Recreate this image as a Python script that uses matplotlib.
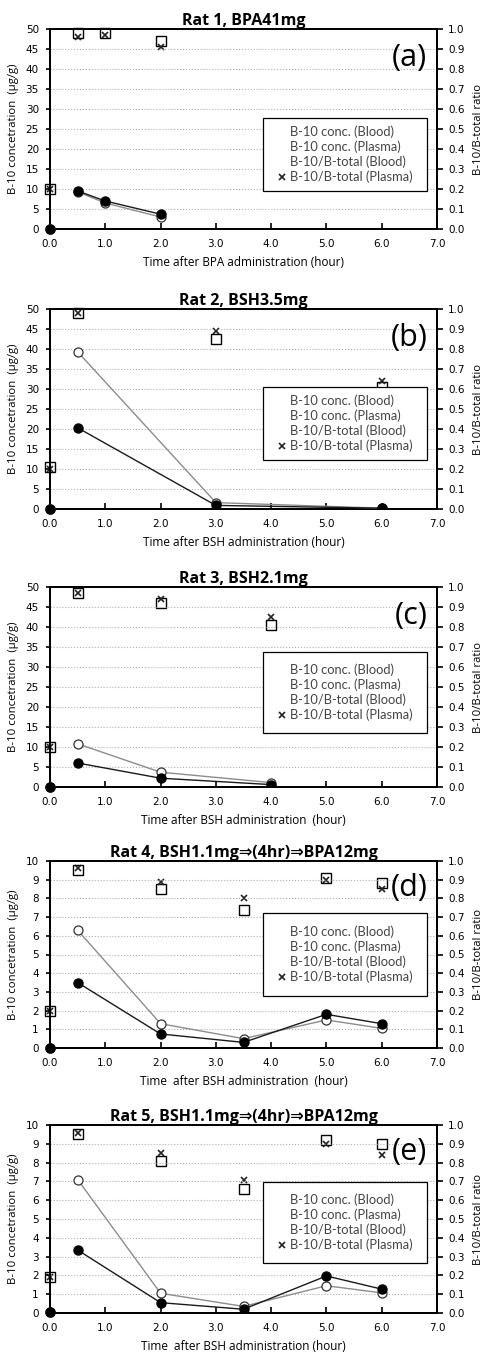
import matplotlib
matplotlib.use("Agg")
import matplotlib.pyplot as plt
from matplotlib.lines import Line2D
from matplotlib.patches import Rectangle
import numpy as np

plt.rcParams['font.family'] = ['Open Sans', 'DejaVu Sans']

# ---------------- data ----------------
titles = ["Rat 1, BPA41mg", "Rat 2, BSH3.5mg", "Rat 3, BSH2.1mg",
          "Rat 4, BSH1.1mg\u21d2(4hr)\u21d2BPA12mg",
          "Rat 5, BSH1.1mg\u21d2(4hr)\u21d2BPA12mg"]
panel_labels = ["(a)", "(b)", "(c)", "(d)", "(e)"]
xlabels = ["Time after BPA administration (hour)",
           "Time after BSH administration (hour)",
           "Time after BSH administration  (hour)",
           "Time  after BSH administration  (hour)",
           "Time  after BSH administration (hour)"]

t1 = [0, 0.5, 1.0, 2.0]
blood1 = [0, 9.5, 7.0, 3.7]
plasma1 = [0, 9.3, 6.5, 3.0]
ratio_blood1 = [0.20, 0.98, 0.98, 0.94]
ratio_plasma1 = [0.20, 0.96, 0.97, 0.91]

t2 = [0, 0.5, 3.0, 6.0]
blood2 = [0, 20.3, 0.9, 0.2]
plasma2 = [0, 39.3, 1.6, 0.2]
ratio_blood2 = [0.21, 0.98, 0.85, 0.61]
ratio_plasma2 = [0.20, 0.98, 0.89, 0.64]

t3 = [0, 0.5, 2.0, 4.0]
blood3 = [0, 6.0, 2.2, 0.6]
plasma3 = [0, 10.8, 3.7, 1.1]
ratio_blood3 = [0.20, 0.97, 0.92, 0.81]
ratio_plasma3 = [0.20, 0.97, 0.94, 0.85]

t4 = [0, 0.5, 2.0, 3.5, 5.0, 6.0]
blood4 = [0, 3.5, 0.75, 0.3, 1.8, 1.3]
plasma4 = [0, 6.3, 1.3, 0.5, 1.5, 1.05]
ratio_blood4 = [0.20, 0.95, 0.85, 0.74, 0.91, 0.88]
ratio_plasma4 = [0.20, 0.96, 0.89, 0.80, 0.90, 0.85]

t5 = [0, 0.5, 2.0, 3.5, 5.0, 6.0]
blood5 = [0.05, 3.35, 0.55, 0.2, 1.97, 1.27]
plasma5 = [0.05, 7.1, 1.05, 0.35, 1.45, 1.07]
ratio_blood5 = [0.19, 0.95, 0.81, 0.66, 0.92, 0.90]
ratio_plasma5 = [0.19, 0.96, 0.85, 0.71, 0.90, 0.84]

times = [t1, t2, t3, t4, t5]
bloods = [blood1, blood2, blood3, blood4, blood5]
plasmas = [plasma1, plasma2, plasma3, plasma4, plasma5]
rbloods = [ratio_blood1, ratio_blood2, ratio_blood3, ratio_blood4, ratio_blood5]
rplasmas = [ratio_plasma1, ratio_plasma2, ratio_plasma3, ratio_plasma4, ratio_plasma5]
ymaxes = [50, 50, 50, 10, 10]
ysteps = [5, 5, 5, 1, 1]
legend_names = ["B-10 conc. (Blood)", "B-10 conc. (Plasma)",
                "B-10/B-total (Blood)", "B-10/B-total (Plasma)"]

# ---------------- layout (pixels) ----------------
W, H = 482, 1354
fig = plt.figure(figsize=(W / 100, H / 100), dpi=100)
boxes = [(29, 229), (309, 509), (587, 787), (861, 1048), (1125, 1313)]
# legend frame in axes fraction: (x0, x1, y0, y1)
legend_boxes = [(0.55, 0.975, 0.19, 0.555),
                (0.55, 0.975, 0.245, 0.61),
                (0.55, 0.975, 0.27, 0.675),
                (0.55, 0.975, 0.28, 0.72),
                (0.55, 0.975, 0.266, 0.697)]
left_px, right_px = 50, 437
tick_font = {'family': 'DejaVu Sans', 'size': 7.5}

for i in range(5):
    top, bot = boxes[i]
    ax = fig.add_axes([left_px / W, 1 - bot / H, (right_px - left_px) / W, (bot - top) / H])
    ax2 = ax.twinx()
    ax.set_zorder(ax2.get_zorder() + 1)
    ax.patch.set_visible(False)

    t = times[i]
    # ratio markers (right axis)
    ax2.plot(t, rbloods[i], linestyle='none', marker='s', markersize=7.5,
             markerfacecolor='white', markeredgecolor='black', markeredgewidth=1.0,
             clip_on=False, zorder=3)
    ax2.plot(t, rplasmas[i], linestyle='none', marker='x', markersize=4.5,
             color='#222222', markeredgewidth=1.2, clip_on=False, zorder=4)
    ax2.set_ylim(0, 1.0)
    ax2.set_yticks(np.arange(0, 1.01, 0.1))
    ax2.yaxis.set_major_formatter(matplotlib.ticker.FormatStrFormatter('%.1f'))
    ax2.tick_params(axis='y', direction='out', length=4, width=1.2,
                    colors='black', pad=4)
    for lb in ax2.get_yticklabels():
        lb.set_fontproperties(tick_font)
    ax2.set_ylabel("B-10/B-total ratio", fontsize=8.2, labelpad=6)

    # concentration lines (left axis)
    ax.plot(t[1:], plasmas[i][1:], color='#8c8c8c', linewidth=1.0, zorder=5,
            marker='o', markersize=6.5, markerfacecolor='white',
            markeredgecolor='#333333', markeredgewidth=0.9)
    ax.plot(t[1:], bloods[i][1:], color='#1a1a1a', linewidth=1.0, zorder=6,
            marker='o', markersize=6.5, markerfacecolor='black', markeredgecolor='black')
    ax.plot(t[:1], plasmas[i][:1], linestyle='none', marker='o', markersize=6.5,
            markerfacecolor='white', markeredgecolor='#333333', clip_on=False, zorder=5)
    ax.plot(t[:1], bloods[i][:1], linestyle='none', marker='o', markersize=6.5,
            markerfacecolor='black', markeredgecolor='black', clip_on=False, zorder=6)

    ax.set_xlim(0, 7)
    ax.set_ylim(0, ymaxes[i])
    ax.set_xticks(np.arange(0, 7.01, 1.0))
    ax.xaxis.set_major_formatter(matplotlib.ticker.FormatStrFormatter('%.1f'))
    ax.set_yticks(np.arange(0, ymaxes[i] + 0.01, ysteps[i]))
    ax.tick_params(axis='x', direction='in', length=4, width=1.2, pad=7)
    ax.tick_params(axis='y', direction='out', length=3, width=1.2, pad=5)
    for lb in ax.get_xticklabels() + ax.get_yticklabels():
        lb.set_fontproperties(tick_font)
    ax.grid(axis='y', linestyle=':', color='#b0b0b0', linewidth=0.8)
    ax.set_axisbelow(True)
    for a in (ax, ax2):
        for s in a.spines.values():
            s.set_linewidth(1.4)
    ax.set_ylabel("B-10 concetration  (\u03bcg/g)", fontsize=8.2, labelpad=5)
    ax.set_xlabel(xlabels[i], fontsize=8.5, labelpad=5)
    ax.set_title(titles[i], fontsize=11.5, fontweight='bold', pad=3)

    ax.text(0.975, 0.855, panel_labels[i],
            transform=ax.transAxes, ha='right', va='center', fontsize=22)

    # legend (frame drawn separately to match the wide horizontal padding)
    x0, x1, y0, y1 = legend_boxes[i]
    ax.add_patch(Rectangle((x0, y0), x1 - x0, y1 - y0, transform=ax.transAxes,
                           facecolor='white', edgecolor='black', linewidth=0.9,
                           zorder=9, clip_on=False))
    handles = [Line2D([], [], linestyle='none', marker=None),
               Line2D([], [], linestyle='none', marker=None),
               Line2D([], [], linestyle='none', marker=None),
               Line2D([], [], linestyle='none', marker='x', color='#222222',
                      markersize=4.5, markeredgewidth=1.2)]
    leg = ax.legend(handles, legend_names, loc='center',
                    bbox_to_anchor=((x0 + x1) / 2, (y0 + y1) / 2),
                    prop={'family': 'Lato', 'size': 9.3},
                    frameon=False, handlelength=0.6, handletextpad=0.3,
                    borderpad=0, labelspacing=0.2, borderaxespad=0)
    leg.set_zorder(10)
    for txt in leg.get_texts():
        txt.set_color('#444444')

fig.savefig("out.png", dpi=100)
